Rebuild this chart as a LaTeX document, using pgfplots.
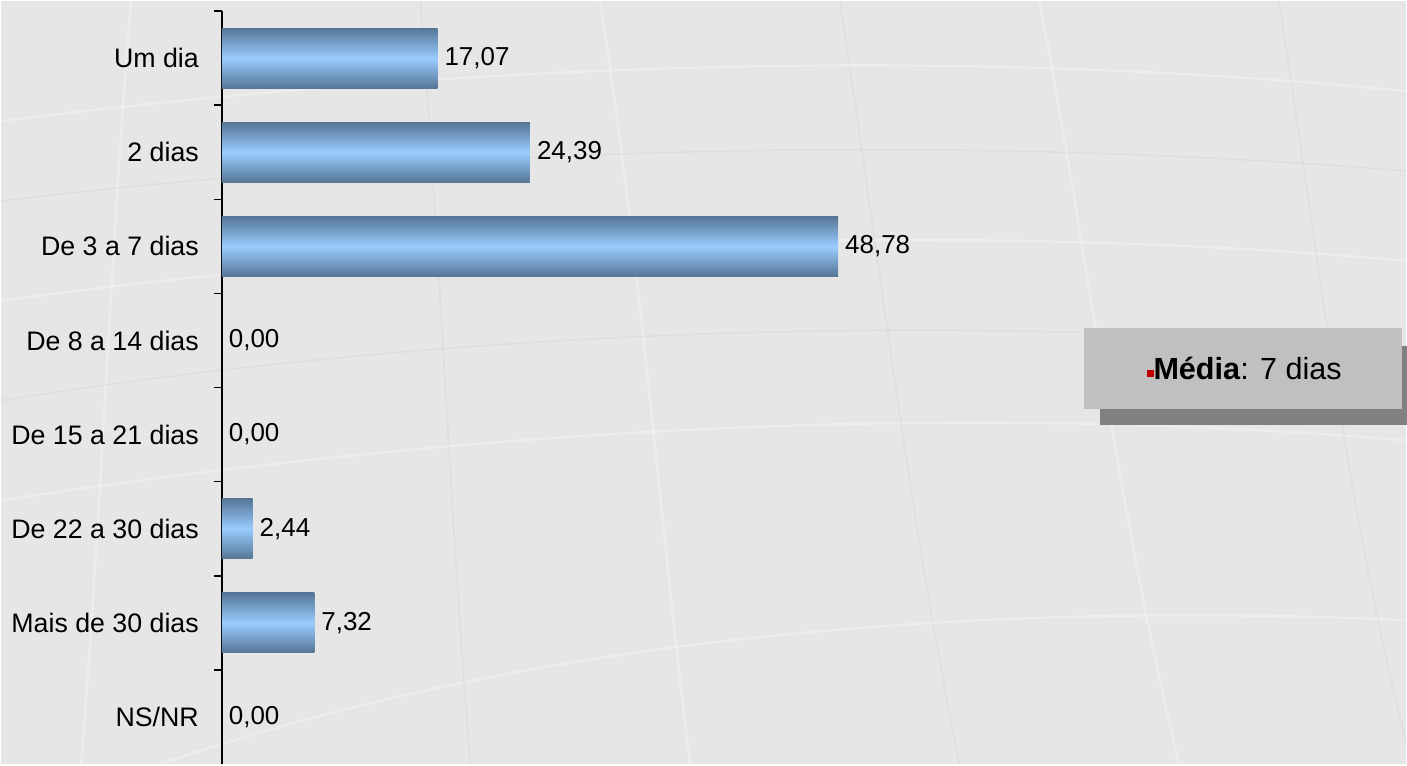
\documentclass[border=0pt]{standalone}
\usepackage{pgfplots}
\pgfplotsset{compat=1.18}
\usepackage{fontspec}
\setmainfont{Liberation Sans}
\definecolor{bgray}{RGB}{230,230,230}
\definecolor{bardark}{RGB}{86,118,150}
\definecolor{barlight}{RGB}{153,204,255}
\definecolor{boxgray}{RGB}{192,192,192}
\definecolor{shadowgray}{RGB}{128,128,128}
\definecolor{bulletred}{RGB}{192,0,0}

\begin{document}
\begin{tikzpicture}
% background (1px = 0.5pt)
\fill[bgray] (0,0) rectangle (703.5pt,-382pt);
\begin{scope}[line width=1.2pt, white, opacity=0.3]
\draw (0,-60pt) .. controls (200pt,-35pt) and (450pt,-20pt) .. (703.5pt,-45pt);
\draw (0,-150pt) .. controls (220pt,-120pt) and (480pt,-110pt) .. (703.5pt,-130pt);
\draw (0,-250pt) .. controls (230pt,-215pt) and (470pt,-200pt) .. (703.5pt,-220pt);
\draw (80pt,-382pt) .. controls (260pt,-320pt) and (480pt,-300pt) .. (703.5pt,-310pt);
\draw (65pt,0) .. controls (55pt,-120pt) and (50pt,-260pt) .. (40pt,-382pt);
\draw (300pt,0) .. controls (320pt,-130pt) and (330pt,-260pt) .. (345pt,-382pt);
\draw (520pt,0) .. controls (545pt,-130pt) and (560pt,-260pt) .. (590pt,-382pt);
\end{scope}
\begin{scope}[line width=0.8pt, black, opacity=0.03]
\draw (0,-100pt) .. controls (210pt,-75pt) and (460pt,-65pt) .. (703.5pt,-85pt);
\draw (0,-200pt) .. controls (220pt,-165pt) and (470pt,-155pt) .. (703.5pt,-175pt);
\draw (210pt,0) .. controls (220pt,-130pt) and (225pt,-260pt) .. (235pt,-382pt);
\draw (420pt,0) .. controls (440pt,-130pt) and (455pt,-260pt) .. (480pt,-382pt);
\draw (640pt,0) .. controls (660pt,-130pt) and (675pt,-260pt) .. (703.5pt,-370pt);
\end{scope}
\path[use as bounding box] (0,0) rectangle (703.5pt,-382pt);
\begin{axis}[
  at={(110.5pt,-5pt)}, anchor=north west,
  scale only axis, width=443pt, height=377pt,
  xmin=0, xmax=70, ymin=-0.5, ymax=7.5, y dir=reverse,
  hide x axis,
  axis y line*=left,
  y axis line style={black, line width=0.8pt},
  ytick={0,...,7},
  yticklabels={Um dia,2 dias,De 3 a 7 dias,De 8 a 14 dias,De 15 a 21 dias,De 22 a 30 dias,Mais de 30 dias,NS/NR},
  yticklabel style={font=\fontsize{13.4pt}{16pt}\selectfont, xshift=-8pt},
  major tick length=0pt,
  tick align=outside,
  ytick pos=left,
  extra y ticks={-0.5,0.5,1.5,2.5,3.5,4.5,5.5,6.5},
  extra y tick labels={},
  extra y tick style={major tick length=4pt, tick style={black, line width=0.8pt}},
  clip=false,
  point meta=x,
  bar shift=0pt,
  every axis plot/.append style={xbar, bar width=30pt, bar shift=0pt, draw=none, mark=none,
    top color=bardark, bottom color=bardark, middle color=barlight,
    nodes near coords, point meta=x},
  nodes near coords style={font=\fontsize{13pt}{15pt}\selectfont, anchor=west, black,
    /pgf/number format/.cd, fixed, fixed zerofill, precision=2, use comma, assume math mode=true},
]
\addplot[] coordinates {(17.07,0)};
\addplot[] coordinates {(24.39,1)};
\addplot[] coordinates {(48.78,2)};
\addplot[] coordinates {(2.44,5)};
\addplot[] coordinates {(7.32,6)};
\addplot[only marks, mark=none, fill=none, shading=none] coordinates {(0,3) (0,4) (0,7)};
\end{axis}
% note box
\fill[shadowgray] (550.5pt,-172.5pt) rectangle (712pt,-212.5pt);
\fill[boxgray] (542.5pt,-163.5pt) rectangle (701.5pt,-204pt);
\node[font=\fontsize{15.3pt}{18pt}\selectfont, inner sep=0pt] at (622.5pt,-184pt)
  {\raisebox{1.5pt}{\color{bulletred}\rule{3.5pt}{3.5pt}}\textbf{Média}: 7 dias};
\end{tikzpicture}
\end{document}
